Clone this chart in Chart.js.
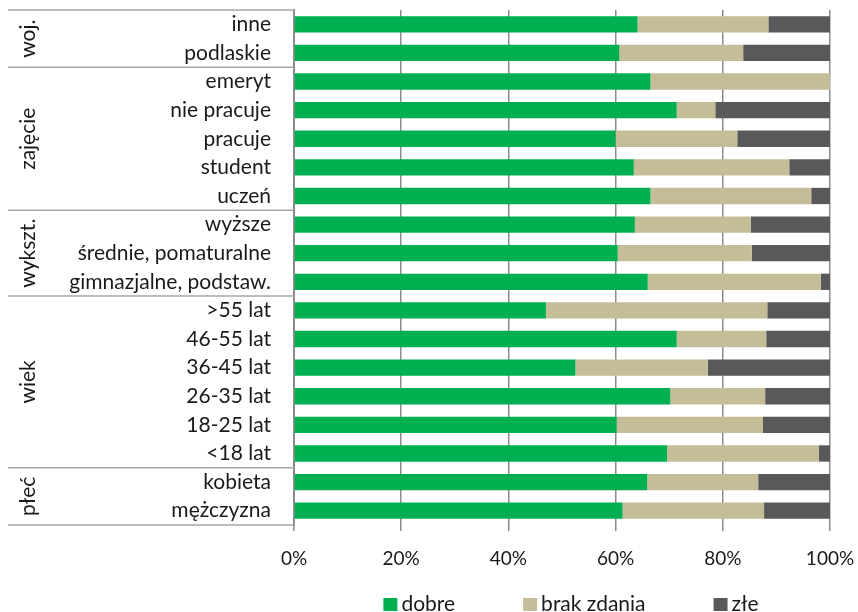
<!DOCTYPE html>
<html>
<head>
<meta charset="utf-8">
<script src="https://cdn.jsdelivr.net/npm/chart.js"></script>
<style>
  body { margin: 0; background: #fff; }
  #box { width: 858px; height: 612px; }
</style>
</head>
<body>
<div id="box"><canvas id="myChart"></canvas></div>
<script>
// dane (%)
const kategorie = ['inne', 'podlaskie', 'emeryt', 'nie pracuje', 'pracuje', 'student', 'uczeń',
  'wyższe', 'średnie, pomaturalne', 'gimnazjalne, podstaw.',
  '>55 lat', '46-55 lat', '36-45 lat', '26-35 lat', '18-25 lat', '<18 lat',
  'kobieta', 'mężczyzna'];
const dobre = [64.1, 60.7, 66.5, 71.4, 60.0, 63.4, 66.5, 63.6, 60.4, 66.0, 47.0, 71.4, 52.5, 70.2, 60.2, 69.6, 65.9, 61.3];
const brakZdania = [24.4, 23.1, 33.5, 7.2, 22.7, 29.0, 30.0, 21.6, 25.0, 32.3, 41.3, 16.7, 24.7, 17.7, 27.3, 28.3, 20.7, 26.4];
const zle = [11.5, 16.2, 0, 21.4, 17.3, 7.6, 3.5, 14.8, 14.6, 1.7, 11.7, 11.9, 22.8, 12.1, 12.5, 2.1, 13.4, 12.3];
const xTicks = [0, 20, 40, 60, 80, 100];

// grupy po lewej stronie
const grupy = ['woj.', 'zajęcie', 'wykszt.', 'wiek', 'płeć'];
const grupyOd = [0, 2, 7, 10, 16];
const grupyDo = [1, 6, 9, 15, 17];

const FONT = 'Lato, "Open Sans", sans-serif';

// linie i podpisy grup
const grupyPlugin = {
  id: 'grupy',
  afterDraw(chart) {
    const ctx = chart.ctx;
    const y = chart.scales.y;
    const area = chart.chartArea;
    const row = (area.bottom - area.top) / kategorie.length;
    ctx.save();
    ctx.strokeStyle = '#a6a6a6';
    ctx.lineWidth = 1.5;
    const linie = [area.top];
    grupyDo.forEach(g => linie.push(y.getPixelForValue(g) + row / 2));
    linie.forEach(py => {
      ctx.beginPath();
      ctx.moveTo(8, py);
      ctx.lineTo(area.left, py);
      ctx.stroke();
    });
    ctx.fillStyle = '#1a1a1a';
    ctx.font = '21px ' + FONT;
    ctx.textAlign = 'center';
    ctx.textBaseline = 'middle';
    grupy.forEach((g, i) => {
      const mid = (y.getPixelForValue(grupyOd[i]) + y.getPixelForValue(grupyDo[i])) / 2;
      ctx.save();
      ctx.translate(28, mid);
      ctx.rotate(-Math.PI / 2);
      ctx.fillText(g, 0, 0);
      ctx.restore();
    });
    ctx.restore();
  }
};

// legenda na dole
const legendaPlugin = {
  id: 'legenda',
  afterDraw(chart) {
    const ctx = chart.ctx;
    const area = chart.chartArea;
    ctx.save();
    ctx.font = '21px ' + FONT;
    ctx.textBaseline = 'middle';
    const sets = chart.data.datasets;
    const gap = 68, box = 14, tgap = 4;
    let total = 0;
    sets.forEach((d, i) => {
      total += box + tgap + ctx.measureText(d.label).width;
      if (i < sets.length - 1) total += gap;
    });
    let x = (area.left + area.right) / 2 + 9 - total / 2;
    const yy = 604;
    sets.forEach(d => {
      ctx.fillStyle = d.backgroundColor;
      ctx.fillRect(x, yy - 6, box, box - 1);
      x += box + tgap;
      ctx.fillStyle = '#1a1a1a';
      ctx.fillText(d.label, x, yy);
      x += ctx.measureText(d.label).width + gap;
    });
    ctx.restore();
  }
};

const ctx = document.getElementById('myChart');

new Chart(ctx, {
  type: 'bar',
  data: {
    labels: kategorie,
    datasets: [
      { label: 'dobre', data: dobre, backgroundColor: '#00b050' },
      { label: 'brak zdania', data: brakZdania, backgroundColor: '#c4bd97' },
      { label: 'złe', data: zle, backgroundColor: '#595959' }
    ]
  },
  options: {
    indexAxis: 'y',
    responsive: true,
    maintainAspectRatio: false,
    animation: false,
    datasets: {
      bar: { categoryPercentage: 1, barPercentage: 0.57 }
    },
    layout: { padding: { top: 10, right: 28, left: 0, bottom: 0 } },
    plugins: {
      legend: { display: false },
      tooltip: { enabled: false }
    },
    scales: {
      x: {
        stacked: true,
        min: 0,
        max: 100,
        afterBuildTicks: (s) => { s.ticks = xTicks.map(v => ({ value: v })); },
        afterFit: (s) => { s.height = 87; s.paddingLeft = 0; s.paddingRight = 0; },
        ticks: {
          callback: (v) => v + '%',
          color: '#1a1a1a',
          font: { family: FONT, size: 19 },
          padding: 16,
          maxRotation: 0
        },
        grid: { color: '#8c8c8c', lineWidth: 1.5, tickLength: 6 },
        border: { display: false }
      },
      y: {
        stacked: true,
        afterFit: (s) => { s.width = 294; s.paddingTop = 0; s.paddingBottom = 0; },
        ticks: {
          color: '#1a1a1a',
          font: { family: FONT, size: 21 },
          padding: 23,
          autoSkip: false
        },
        grid: { display: false, drawTicks: false },
        border: { display: true, color: '#8c8c8c', width: 2 }
      }
    }
  },
  plugins: [grupyPlugin, legendaPlugin]
});
</script>
</body>
</html>
